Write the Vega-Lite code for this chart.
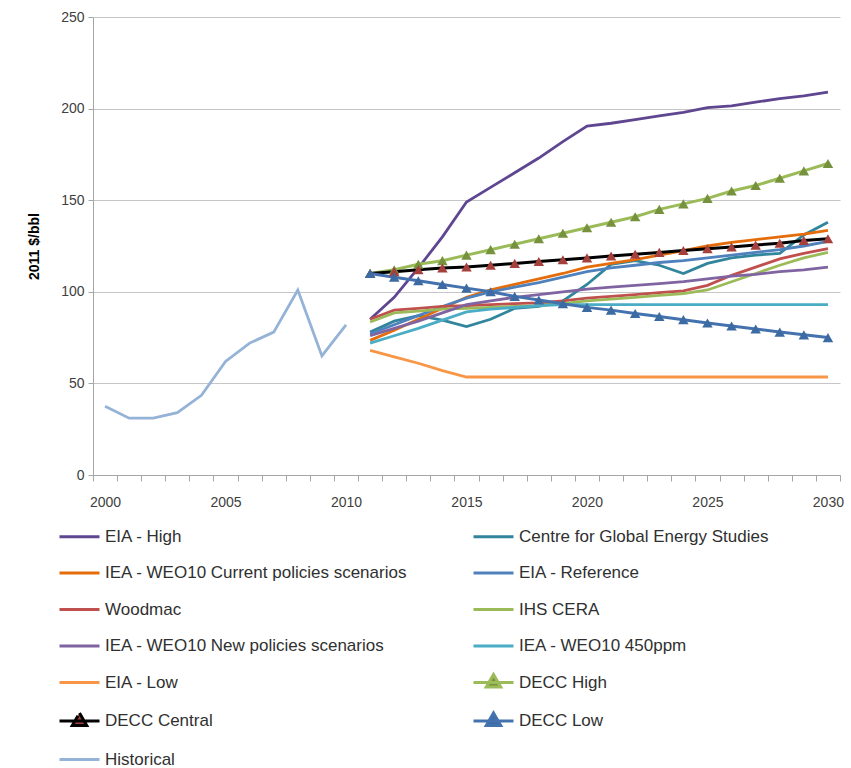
{
  "$schema": "https://vega.github.io/schema/vega-lite/v6.json",
  "width": 747,
  "height": 458,
  "autosize": "none",
  "padding": {"left": 93, "top": 17, "right": 11, "bottom": 293},
  "background": "white",
  "config": {"view": {"stroke": null}, "font": "Liberation Sans"},
  "data": {"values": [
    {"series":"Historical","year":2000,"value":37.5},{"series":"Historical","year":2001,"value":31},{"series":"Historical","year":2002,"value":31},{"series":"Historical","year":2003,"value":34},{"series":"Historical","year":2004,"value":43.5},{"series":"Historical","year":2005,"value":62},{"series":"Historical","year":2006,"value":72},{"series":"Historical","year":2007,"value":78},{"series":"Historical","year":2008,"value":101},{"series":"Historical","year":2009,"value":65},{"series":"Historical","year":2010,"value":82},
    {"series":"EIA - High","year":2011,"value":85},{"series":"EIA - High","year":2012,"value":97},{"series":"EIA - High","year":2013,"value":113},{"series":"EIA - High","year":2014,"value":130},{"series":"EIA - High","year":2015,"value":149},{"series":"EIA - High","year":2016,"value":157},{"series":"EIA - High","year":2017,"value":165},{"series":"EIA - High","year":2018,"value":173},{"series":"EIA - High","year":2019,"value":182},{"series":"EIA - High","year":2020,"value":190.5},{"series":"EIA - High","year":2021,"value":192},{"series":"EIA - High","year":2022,"value":194},{"series":"EIA - High","year":2023,"value":196},{"series":"EIA - High","year":2024,"value":198},{"series":"EIA - High","year":2025,"value":200.5},{"series":"EIA - High","year":2026,"value":201.5},{"series":"EIA - High","year":2027,"value":203.5},{"series":"EIA - High","year":2028,"value":205.5},{"series":"EIA - High","year":2029,"value":207},{"series":"EIA - High","year":2030,"value":209},
    {"series":"Centre for Global Energy Studies","year":2011,"value":78},{"series":"Centre for Global Energy Studies","year":2012,"value":84},{"series":"Centre for Global Energy Studies","year":2013,"value":87},{"series":"Centre for Global Energy Studies","year":2014,"value":84.5},{"series":"Centre for Global Energy Studies","year":2015,"value":81},{"series":"Centre for Global Energy Studies","year":2016,"value":85},{"series":"Centre for Global Energy Studies","year":2017,"value":91},{"series":"Centre for Global Energy Studies","year":2018,"value":92},{"series":"Centre for Global Energy Studies","year":2019,"value":95},{"series":"Centre for Global Energy Studies","year":2020,"value":104},{"series":"Centre for Global Energy Studies","year":2021,"value":115},{"series":"Centre for Global Energy Studies","year":2022,"value":117},{"series":"Centre for Global Energy Studies","year":2023,"value":114.5},{"series":"Centre for Global Energy Studies","year":2024,"value":110},{"series":"Centre for Global Energy Studies","year":2025,"value":115.5},{"series":"Centre for Global Energy Studies","year":2026,"value":118.5},{"series":"Centre for Global Energy Studies","year":2027,"value":120},{"series":"Centre for Global Energy Studies","year":2028,"value":121},{"series":"Centre for Global Energy Studies","year":2029,"value":131},{"series":"Centre for Global Energy Studies","year":2030,"value":138},
    {"series":"IEA - WEO10 Current policies scenarios","year":2011,"value":73.5},{"series":"IEA - WEO10 Current policies scenarios","year":2012,"value":79},{"series":"IEA - WEO10 Current policies scenarios","year":2013,"value":85},{"series":"IEA - WEO10 Current policies scenarios","year":2014,"value":91},{"series":"IEA - WEO10 Current policies scenarios","year":2015,"value":97},{"series":"IEA - WEO10 Current policies scenarios","year":2016,"value":101},{"series":"IEA - WEO10 Current policies scenarios","year":2017,"value":104},{"series":"IEA - WEO10 Current policies scenarios","year":2018,"value":107},{"series":"IEA - WEO10 Current policies scenarios","year":2019,"value":110},{"series":"IEA - WEO10 Current policies scenarios","year":2020,"value":113.5},{"series":"IEA - WEO10 Current policies scenarios","year":2021,"value":115.5},{"series":"IEA - WEO10 Current policies scenarios","year":2022,"value":117.5},{"series":"IEA - WEO10 Current policies scenarios","year":2023,"value":120},{"series":"IEA - WEO10 Current policies scenarios","year":2024,"value":122.5},{"series":"IEA - WEO10 Current policies scenarios","year":2025,"value":125},{"series":"IEA - WEO10 Current policies scenarios","year":2026,"value":127},{"series":"IEA - WEO10 Current policies scenarios","year":2027,"value":128.5},{"series":"IEA - WEO10 Current policies scenarios","year":2028,"value":130},{"series":"IEA - WEO10 Current policies scenarios","year":2029,"value":131.5},{"series":"IEA - WEO10 Current policies scenarios","year":2030,"value":133.5},
    {"series":"EIA - Reference","year":2011,"value":77},{"series":"EIA - Reference","year":2012,"value":82},{"series":"EIA - Reference","year":2013,"value":87},{"series":"EIA - Reference","year":2014,"value":92},{"series":"EIA - Reference","year":2015,"value":96.5},{"series":"EIA - Reference","year":2016,"value":100},{"series":"EIA - Reference","year":2017,"value":102.5},{"series":"EIA - Reference","year":2018,"value":105},{"series":"EIA - Reference","year":2019,"value":108},{"series":"EIA - Reference","year":2020,"value":111},{"series":"EIA - Reference","year":2021,"value":113},{"series":"EIA - Reference","year":2022,"value":114.5},{"series":"EIA - Reference","year":2023,"value":116},{"series":"EIA - Reference","year":2024,"value":117},{"series":"EIA - Reference","year":2025,"value":118.5},{"series":"EIA - Reference","year":2026,"value":120},{"series":"EIA - Reference","year":2027,"value":121.5},{"series":"EIA - Reference","year":2028,"value":123},{"series":"EIA - Reference","year":2029,"value":125},{"series":"EIA - Reference","year":2030,"value":127.5},
    {"series":"Woodmac","year":2011,"value":85},{"series":"Woodmac","year":2012,"value":90},{"series":"Woodmac","year":2013,"value":91},{"series":"Woodmac","year":2014,"value":92},{"series":"Woodmac","year":2015,"value":92.5},{"series":"Woodmac","year":2016,"value":93},{"series":"Woodmac","year":2017,"value":93.5},{"series":"Woodmac","year":2018,"value":94},{"series":"Woodmac","year":2019,"value":95},{"series":"Woodmac","year":2020,"value":96.5},{"series":"Woodmac","year":2021,"value":97.5},{"series":"Woodmac","year":2022,"value":98.5},{"series":"Woodmac","year":2023,"value":99.5},{"series":"Woodmac","year":2024,"value":100.5},{"series":"Woodmac","year":2025,"value":103.5},{"series":"Woodmac","year":2026,"value":109},{"series":"Woodmac","year":2027,"value":113.5},{"series":"Woodmac","year":2028,"value":118},{"series":"Woodmac","year":2029,"value":121},{"series":"Woodmac","year":2030,"value":123.5},
    {"series":"IHS CERA","year":2011,"value":83.5},{"series":"IHS CERA","year":2012,"value":88.5},{"series":"IHS CERA","year":2013,"value":89.5},{"series":"IHS CERA","year":2014,"value":90.5},{"series":"IHS CERA","year":2015,"value":91},{"series":"IHS CERA","year":2016,"value":91.5},{"series":"IHS CERA","year":2017,"value":92},{"series":"IHS CERA","year":2018,"value":92.5},{"series":"IHS CERA","year":2019,"value":93.5},{"series":"IHS CERA","year":2020,"value":95},{"series":"IHS CERA","year":2021,"value":96},{"series":"IHS CERA","year":2022,"value":97},{"series":"IHS CERA","year":2023,"value":98},{"series":"IHS CERA","year":2024,"value":99},{"series":"IHS CERA","year":2025,"value":101},{"series":"IHS CERA","year":2026,"value":105.5},{"series":"IHS CERA","year":2027,"value":110},{"series":"IHS CERA","year":2028,"value":114.5},{"series":"IHS CERA","year":2029,"value":118.5},{"series":"IHS CERA","year":2030,"value":121.5},
    {"series":"IEA - WEO10 New policies scenarios","year":2011,"value":76},{"series":"IEA - WEO10 New policies scenarios","year":2012,"value":80},{"series":"IEA - WEO10 New policies scenarios","year":2013,"value":84},{"series":"IEA - WEO10 New policies scenarios","year":2014,"value":88.5},{"series":"IEA - WEO10 New policies scenarios","year":2015,"value":93},{"series":"IEA - WEO10 New policies scenarios","year":2016,"value":95},{"series":"IEA - WEO10 New policies scenarios","year":2017,"value":97},{"series":"IEA - WEO10 New policies scenarios","year":2018,"value":98.5},{"series":"IEA - WEO10 New policies scenarios","year":2019,"value":100},{"series":"IEA - WEO10 New policies scenarios","year":2020,"value":101.5},{"series":"IEA - WEO10 New policies scenarios","year":2021,"value":102.5},{"series":"IEA - WEO10 New policies scenarios","year":2022,"value":103.5},{"series":"IEA - WEO10 New policies scenarios","year":2023,"value":104.5},{"series":"IEA - WEO10 New policies scenarios","year":2024,"value":105.5},{"series":"IEA - WEO10 New policies scenarios","year":2025,"value":107},{"series":"IEA - WEO10 New policies scenarios","year":2026,"value":108.5},{"series":"IEA - WEO10 New policies scenarios","year":2027,"value":109.5},{"series":"IEA - WEO10 New policies scenarios","year":2028,"value":111},{"series":"IEA - WEO10 New policies scenarios","year":2029,"value":112},{"series":"IEA - WEO10 New policies scenarios","year":2030,"value":113.5},
    {"series":"IEA - WEO10 450ppm","year":2011,"value":72},{"series":"IEA - WEO10 450ppm","year":2012,"value":76},{"series":"IEA - WEO10 450ppm","year":2013,"value":80},{"series":"IEA - WEO10 450ppm","year":2014,"value":84.5},{"series":"IEA - WEO10 450ppm","year":2015,"value":89},{"series":"IEA - WEO10 450ppm","year":2016,"value":90.5},{"series":"IEA - WEO10 450ppm","year":2017,"value":91.5},{"series":"IEA - WEO10 450ppm","year":2018,"value":92.5},{"series":"IEA - WEO10 450ppm","year":2019,"value":93},{"series":"IEA - WEO10 450ppm","year":2020,"value":93},{"series":"IEA - WEO10 450ppm","year":2021,"value":93},{"series":"IEA - WEO10 450ppm","year":2022,"value":93},{"series":"IEA - WEO10 450ppm","year":2023,"value":93},{"series":"IEA - WEO10 450ppm","year":2024,"value":93},{"series":"IEA - WEO10 450ppm","year":2025,"value":93},{"series":"IEA - WEO10 450ppm","year":2026,"value":93},{"series":"IEA - WEO10 450ppm","year":2027,"value":93},{"series":"IEA - WEO10 450ppm","year":2028,"value":93},{"series":"IEA - WEO10 450ppm","year":2029,"value":93},{"series":"IEA - WEO10 450ppm","year":2030,"value":93},
    {"series":"EIA - Low","year":2011,"value":68},{"series":"EIA - Low","year":2012,"value":64.5},{"series":"EIA - Low","year":2013,"value":61},{"series":"EIA - Low","year":2014,"value":57},{"series":"EIA - Low","year":2015,"value":53.5},{"series":"EIA - Low","year":2016,"value":53.5},{"series":"EIA - Low","year":2017,"value":53.5},{"series":"EIA - Low","year":2018,"value":53.5},{"series":"EIA - Low","year":2019,"value":53.5},{"series":"EIA - Low","year":2020,"value":53.5},{"series":"EIA - Low","year":2021,"value":53.5},{"series":"EIA - Low","year":2022,"value":53.5},{"series":"EIA - Low","year":2023,"value":53.5},{"series":"EIA - Low","year":2024,"value":53.5},{"series":"EIA - Low","year":2025,"value":53.5},{"series":"EIA - Low","year":2026,"value":53.5},{"series":"EIA - Low","year":2027,"value":53.5},{"series":"EIA - Low","year":2028,"value":53.5},{"series":"EIA - Low","year":2029,"value":53.5},{"series":"EIA - Low","year":2030,"value":53.5},
    {"series":"DECC High","year":2011,"value":110},{"series":"DECC High","year":2012,"value":112},{"series":"DECC High","year":2013,"value":115},{"series":"DECC High","year":2014,"value":117},{"series":"DECC High","year":2015,"value":120},{"series":"DECC High","year":2016,"value":123},{"series":"DECC High","year":2017,"value":126},{"series":"DECC High","year":2018,"value":129},{"series":"DECC High","year":2019,"value":132},{"series":"DECC High","year":2020,"value":135},{"series":"DECC High","year":2021,"value":138},{"series":"DECC High","year":2022,"value":141},{"series":"DECC High","year":2023,"value":145},{"series":"DECC High","year":2024,"value":148},{"series":"DECC High","year":2025,"value":151},{"series":"DECC High","year":2026,"value":155},{"series":"DECC High","year":2027,"value":158},{"series":"DECC High","year":2028,"value":162},{"series":"DECC High","year":2029,"value":166},{"series":"DECC High","year":2030,"value":170},
    {"series":"DECC Central","year":2011,"value":110},{"series":"DECC Central","year":2012,"value":111},{"series":"DECC Central","year":2013,"value":112},{"series":"DECC Central","year":2014,"value":113},{"series":"DECC Central","year":2015,"value":113.5},{"series":"DECC Central","year":2016,"value":114.5},{"series":"DECC Central","year":2017,"value":115.5},{"series":"DECC Central","year":2018,"value":116.5},{"series":"DECC Central","year":2019,"value":117.5},{"series":"DECC Central","year":2020,"value":118.5},{"series":"DECC Central","year":2021,"value":119.5},{"series":"DECC Central","year":2022,"value":120.5},{"series":"DECC Central","year":2023,"value":121.5},{"series":"DECC Central","year":2024,"value":122.5},{"series":"DECC Central","year":2025,"value":123.5},{"series":"DECC Central","year":2026,"value":124.5},{"series":"DECC Central","year":2027,"value":125.5},{"series":"DECC Central","year":2028,"value":126.5},{"series":"DECC Central","year":2029,"value":128},{"series":"DECC Central","year":2030,"value":129},
    {"series":"DECC Low","year":2011,"value":110},{"series":"DECC Low","year":2012,"value":108},{"series":"DECC Low","year":2013,"value":106},{"series":"DECC Low","year":2014,"value":104},{"series":"DECC Low","year":2015,"value":102},{"series":"DECC Low","year":2016,"value":100},{"series":"DECC Low","year":2017,"value":97.5},{"series":"DECC Low","year":2018,"value":95.5},{"series":"DECC Low","year":2019,"value":93.5},{"series":"DECC Low","year":2020,"value":91.5},{"series":"DECC Low","year":2021,"value":90},{"series":"DECC Low","year":2022,"value":88.2},{"series":"DECC Low","year":2023,"value":86.5},{"series":"DECC Low","year":2024,"value":84.8},{"series":"DECC Low","year":2025,"value":83},{"series":"DECC Low","year":2026,"value":81.3},{"series":"DECC Low","year":2027,"value":79.7},{"series":"DECC Low","year":2028,"value":78},{"series":"DECC Low","year":2029,"value":76.5},{"series":"DECC Low","year":2030,"value":75}
  ]},
  "encoding": {
    "x": {
      "field": "year", "type": "quantitative",
      "scale": {"domain": [1999.5, 2030.5], "nice": false, "zero": false},
      "axis": {
        "title": null, "grid": false,
        "values": [1999.5,2000.5,2001.5,2002.5,2003.5,2004.5,2005.5,2006.5,2007.5,2008.5,2009.5,2010.5,2011.5,2012.5,2013.5,2014.5,2015.5,2016.5,2017.5,2018.5,2019.5,2020.5,2021.5,2022.5,2023.5,2024.5,2025.5,2026.5,2027.5,2028.5,2029.5,2030.5],
        "labelExpr": "((datum.value + 0.5) % 5 == 0) ? format(datum.value + 0.5, 'd') : ''",
        "labelOffset": 12, "labelOverlap": false, "labelFlush": false,
        "labelFontSize": 14, "labelColor": "#404040", "labelPadding": 14,
        "tickSize": 6, "tickColor": "#A6A6A6", "domainColor": "#A6A6A6", "tickWidth": 1, "domainWidth": 1
      }
    },
    "y": {
      "field": "value", "type": "quantitative",
      "scale": {"domain": [0, 250], "nice": false},
      "axis": {
        "title": "2011 $/bbl", "titleFontWeight": "bold", "titleFontSize": 14, "titleColor": "#000000", "titlePadding": 19,
        "values": [0, 50, 100, 150, 200, 250],
        "labelFontSize": 14, "labelColor": "#404040", "labelPadding": 4,
        "tickSize": 5, "tickColor": "#A6A6A6", "domainColor": "#A6A6A6",
        "grid": true, "gridColor": "#C6C6C6", "gridWidth": 1.2
      }
    }
  },
  "layer": [
    {
      "transform": [{"filter": "indexof(['DECC High','DECC Central','DECC Low'], datum.series) < 0"}],
      "mark": {"type": "line", "strokeWidth": 2.8},
      "encoding": {
        "color": {
          "field": "series", "type": "nominal",
          "scale": {
            "domain": ["EIA - High","IEA - WEO10 Current policies scenarios","Woodmac","IEA - WEO10 New policies scenarios","EIA - Low","DECC Central","Historical","Centre for Global Energy Studies","EIA - Reference","IHS CERA","IEA - WEO10 450ppm","DECC High","DECC Low"],
            "range": ["#5F4690","#E46C0A","#C0504D","#8064A2","#F79646","#000000","#95B3D7","#31859C","#4F81BD","#9BBB59","#4BACC6","#9BBB59","#4472AE"]
          },
          "legend": {
            "title": null, "orient": "none", "legendX": -35, "legendY": 498,
            "direction": "vertical", "columns": 2, "columnPadding": 59, "rowPadding": 6.5, "padding": 0,
            "symbolType": "stroke", "symbolSize": 1600, "symbolStrokeWidth": 3,
            "labelFontSize": 17, "labelLimit": 420, "labelOffset": 4, "labelColor": "#303030",
            "encode": {
              "symbols": {
                "update": {
                  "shape": {"signal": "indexof(['DECC High','DECC Central','DECC Low'], datum.value) >= 0 ? 'M-1,0H1M0,-0.4L0.36,0.22L-0.36,0.22Z' : 'stroke'"},
                  "fill": {"signal": "datum.value == 'DECC High' ? '#76923C' : datum.value == 'DECC Central' ? '#A5403D' : datum.value == 'DECC Low' ? '#3C6AA3' : 'transparent'"},
                  "strokeDash": {"signal": "datum.value == 'DECC Central' ? [40, 300] : null"},
                  "fillOpacity": {"value": 1}
                }
              }
            }
          }
        }
      }
    },
    {
      "transform": [{"filter": "indexof(['DECC High','DECC Central','DECC Low'], datum.series) >= 0"}],
      "mark": {"type": "line", "strokeWidth": 3},
      "encoding": {
        "color": {
          "field": "series", "type": "nominal",
          "scale": {
            "domain": ["EIA - High","IEA - WEO10 Current policies scenarios","Woodmac","IEA - WEO10 New policies scenarios","EIA - Low","DECC Central","Historical","Centre for Global Energy Studies","EIA - Reference","IHS CERA","IEA - WEO10 450ppm","DECC High","DECC Low"],
            "range": ["#5F4690","#E46C0A","#C0504D","#8064A2","#F79646","#000000","#95B3D7","#31859C","#4F81BD","#9BBB59","#4BACC6","#9BBB59","#4472AE"]
          },
          "legend": {
            "title": null, "orient": "none", "legendX": -35, "legendY": 498,
            "direction": "vertical", "columns": 2, "columnPadding": 59, "rowPadding": 6.5, "padding": 0,
            "symbolType": "stroke", "symbolSize": 1600, "symbolStrokeWidth": 3,
            "labelFontSize": 17, "labelLimit": 420, "labelOffset": 4, "labelColor": "#303030",
            "encode": {
              "symbols": {
                "update": {
                  "shape": {"signal": "indexof(['DECC High','DECC Central','DECC Low'], datum.value) >= 0 ? 'M-1,0H1M0,-0.4L0.36,0.22L-0.36,0.22Z' : 'stroke'"},
                  "fill": {"signal": "datum.value == 'DECC High' ? '#76923C' : datum.value == 'DECC Central' ? '#A5403D' : datum.value == 'DECC Low' ? '#3C6AA3' : 'transparent'"},
                  "strokeDash": {"signal": "datum.value == 'DECC Central' ? [40, 300] : null"},
                  "fillOpacity": {"value": 1}
                }
              }
            }
          }
        }
      }
    },
    {
      "transform": [{"filter": "indexof(['DECC High','DECC Central','DECC Low'], datum.series) >= 0"}],
      "mark": {"type": "point", "shape": "triangle-up", "filled": true, "size": 110, "opacity": 1},
      "encoding": {
        "fill": {
          "field": "series", "type": "nominal",
          "scale": {"domain": ["DECC High","DECC Central","DECC Low"], "range": ["#76923C","#A5403D","#3C6AA3"]},
          "legend": null
        }
      }
    }
  ]
}
